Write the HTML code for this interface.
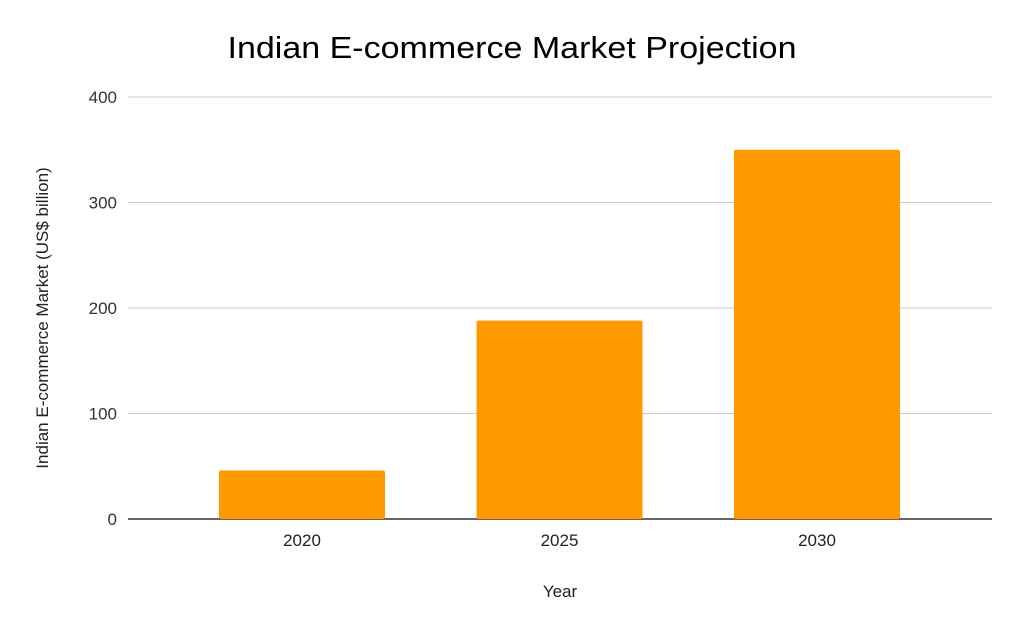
<!DOCTYPE html>
<html><head><meta charset="utf-8"><style>
html,body{margin:0;padding:0;background:#fff;}
svg{display:block;font-family:"Liberation Sans",Arial,sans-serif;}
</style></head><body>
<svg id="chart" width="1024" height="633">
<text x="512" y="58" text-anchor="middle" font-size="31" textLength="569" lengthAdjust="spacingAndGlyphs" fill="#000">Indian E-commerce Market Projection</text>
<g id="grid"></g><g id="bars"></g><g id="xl"></g>
<text transform="translate(48,318) rotate(-90)" text-anchor="middle" font-size="17" fill="#222">Indian E-commerce Market (US$ billion)</text>
<text x="560" y="597" text-anchor="middle" font-size="17" fill="#222">Year</text>
</svg>
<script>
const categories=["2020","2025","2030"];
const values=[46,188,350];
const yTicks=[0,100,200,300,400];
const NS="http://www.w3.org/2000/svg";
const y0=519,yTop=97,yMax=400;
function y(v){return y0-(y0-yTop)*v/yMax;}
function xc(i){return 302+i*257.5;}
const grid=document.getElementById('grid'),bars=document.getElementById('bars'),xl=document.getElementById('xl');
yTicks.forEach(t=>{
 const l=document.createElementNS(NS,'line');
 l.setAttribute('x1',128);l.setAttribute('x2',992);l.setAttribute('y1',y(t));l.setAttribute('y2',y(t));
 l.setAttribute('stroke',t===0?'#333':'#ccc');l.setAttribute('stroke-width',t===0?1.5:1);
 
 
 grid.appendChild(l);
 const tx=document.createElementNS(NS,'text');
 tx.setAttribute('x',117);tx.setAttribute('y',y(t)+6);tx.setAttribute('text-anchor','end');tx.setAttribute('font-size','17');tx.setAttribute('fill','#333');
 tx.textContent=t;
 
 
 grid.appendChild(tx);
});
categories.forEach((c,i)=>{
 const r=document.createElementNS(NS,'rect');
 const w=166;
 r.setAttribute('x',xc(i)-w/2);r.setAttribute('width',w);r.setAttribute('y',y(values[i]));r.setAttribute('height',y0-y(values[i]));
 r.setAttribute('fill','#ff9900');r.setAttribute('rx',2);
 
 
 bars.appendChild(r);
 const tx=document.createElementNS(NS,'text');
 tx.setAttribute('x',xc(i));tx.setAttribute('y',546);tx.setAttribute('text-anchor','middle');tx.setAttribute('font-size','17');tx.setAttribute('fill','#222');
 tx.textContent=c;
 
 
 xl.appendChild(tx);
});
</script>
</body></html>
